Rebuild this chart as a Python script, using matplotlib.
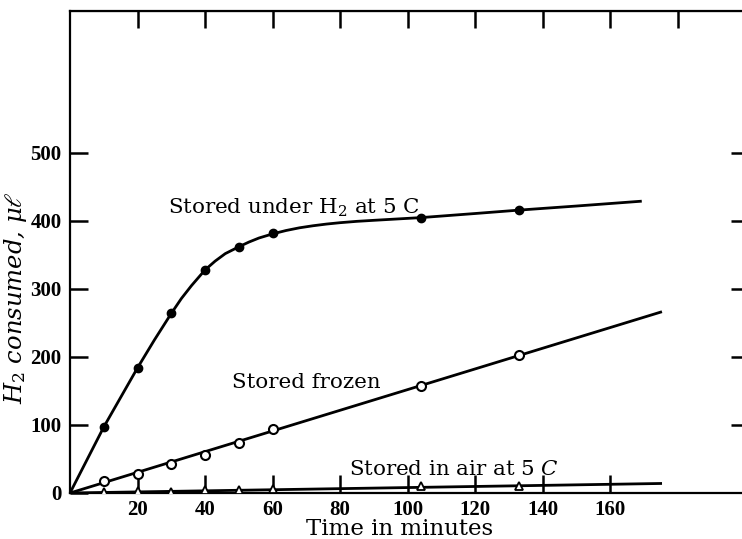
import matplotlib
matplotlib.use("Agg")
import matplotlib.pyplot as plt

plt.rcParams['mathtext.fontset'] = 'dejavuserif'

# measured points (time in minutes, H2 consumed in microliters)
time = [10, 20, 30, 40, 50, 60, 104, 133]
stored_h2 = [97, 184, 264, 328, 362, 382, 405, 416]
stored_frozen = [17, 28, 42, 56, 73, 94, 157, 203]
stored_air = [1, 3, 2, 4, 5, 6, 10, 11]

# drawn curves
h2_curve_t = [0, 10, 20, 25, 30, 33, 36, 40, 43, 46, 50, 53, 56, 60, 64, 68, 72, 76, 80, 85, 90, 97, 104, 120, 133, 150, 169]
h2_curve_v = [0, 97, 184, 225, 264, 286, 305, 328, 341, 352, 362, 369, 375, 381, 386, 390, 393, 395.5, 397.5, 399.5, 401, 403, 405, 411, 416, 422, 429]
frozen_line_t = [0, 175]
frozen_line_v = [0, 266]
air_line_t = [0, 175]
air_line_v = [0, 14]

xticks = [20, 40, 60, 80, 100, 120, 140, 160]
top_ticks = [20, 40, 60, 80, 100, 120, 140, 160, 180]
yticks = [0, 100, 200, 300, 400, 500]

W, H = 742, 539
fig = plt.figure(figsize=(W / 100, H / 100), dpi=100)
x0, x1 = 70, 745
y0, y1 = 493, 11
ax = fig.add_axes([x0 / W, 1 - y0 / H, (x1 - x0) / W, (y0 - y1) / H])
ax.set_xlim(0, 200)
ax.set_ylim(0, (y0 - y1) / 0.68)

lw = 2.0
ax.plot(h2_curve_t, h2_curve_v, color='black', lw=lw, solid_joinstyle='round')
ax.plot(frozen_line_t, frozen_line_v, color='black', lw=lw)
ax.plot(air_line_t, air_line_v, color='black', lw=lw)

ax.plot(time, stored_h2, 'o', color='black', ms=6, zorder=3)
ax.plot(time, stored_frozen, 'o', mfc='white', mec='black', mew=1.5, ms=6.5, zorder=3)
ax.plot(time, stored_air, '^', mfc='white', mec='black', mew=1.3, ms=6, zorder=3)

for s in ['left', 'top', 'bottom', 'right']:
    ax.spines[s].set_linewidth(1.6)

tickfont = dict(family='Liberation Serif', size=15, weight='bold')
ax.set_xticks(xticks)
ax.set_xticklabels([str(v) for v in xticks], fontdict=tickfont)
ax.set_yticks(yticks)
ax.set_yticklabels([str(v) for v in yticks], fontdict=tickfont)
ax.tick_params(axis='both', direction='in', length=13, width=1.8, pad=6)
ax.tick_params(axis='x', pad=5)

top = ax.secondary_xaxis('top')
top.set_xticks(top_ticks)
top.set_xticklabels([])
top.tick_params(direction='in', length=12, width=1.8)
right = ax.secondary_yaxis('right')
right.set_yticks([100, 200, 300, 400, 500])
right.set_yticklabels([])
right.tick_params(direction='in', length=10, width=1.8)

txt = dict(family='DejaVu Serif', size=15.4, color='black')
ax.text(29, 420, 'Stored under H$_2$ at 5 C', ha='left', va='center', **txt)
ax.text(48, 162, 'Stored frozen', ha='left', va='center', **txt)
ax.text(82.7, 34, 'Stored in air at $\\it{5\\ C}$', ha='left', va='center', **txt)

ax.set_xlabel('Time in minutes', family='DejaVu Serif', size=16.5)
ax.xaxis.set_label_coords((400 - x0) / (x1 - x0), (y0 - 529) / (y0 - y1))
ax.xaxis.label.set_va('center')
ax.set_ylabel('H$_2$ consumed, $\\mu\\ell$', family='DejaVu Serif', style='italic', size=17.5)
ax.yaxis.set_label_coords((16 - x0) / (x1 - x0), (y0 - 298) / (y0 - y1))
ax.yaxis.label.set_va('center')

fig.savefig('out.png', dpi=100)
